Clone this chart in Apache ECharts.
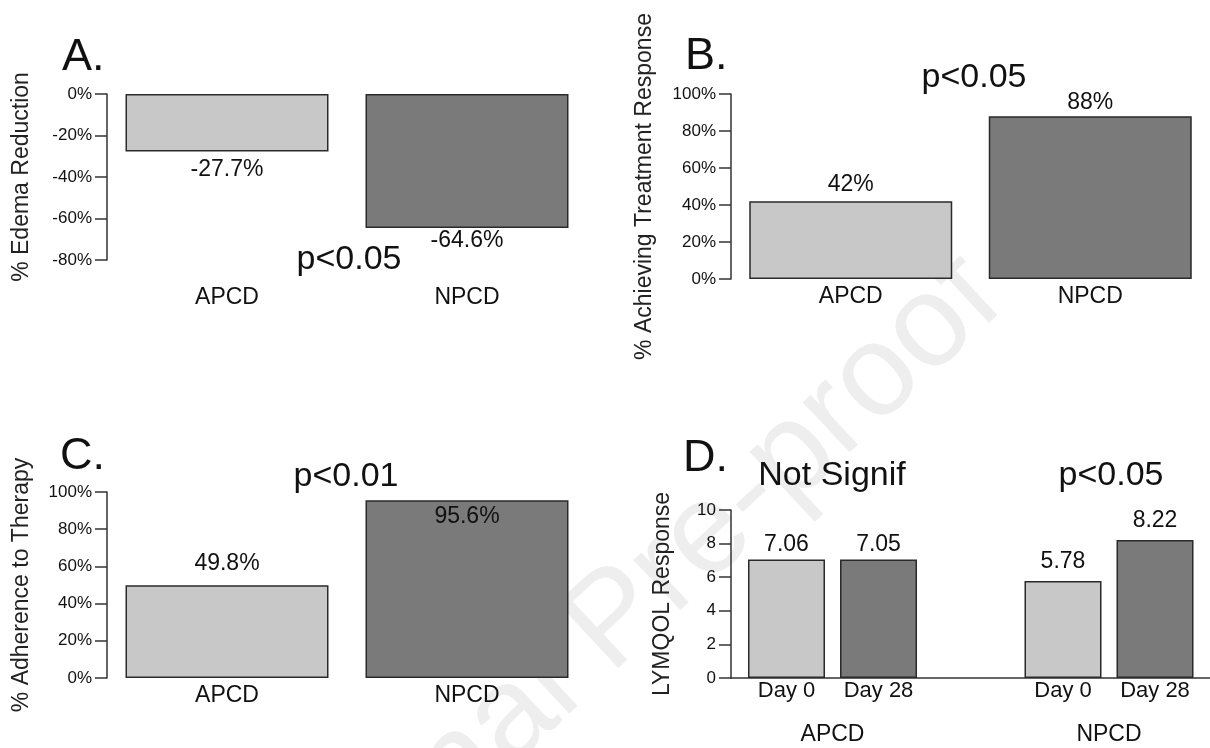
<!DOCTYPE html>
<html>
<head>
<meta charset="utf-8">
<script src="https://cdn.jsdelivr.net/npm/echarts@6/dist/echarts.min.js"></script>
<style>
html,body{margin:0;padding:0;background:#fff;}
#chart{width:1210px;height:748px;}
</style>
</head>
<body>
<div id="chart"></div>
<script>
// ---------------- data ----------------
const groups = ['APCD', 'NPCD'];
const edemaReduction = [-27.7, -64.6];        // panel A (%)
const treatmentResponse = [42, 88];           // panel B (%)
const adherence = [49.8, 95.6];               // panel C (%)
const timepoints = ['Day 0', 'Day 28'];
const lymqolDay0 = [7.06, 5.78];              // panel D
const lymqolDay28 = [7.05, 8.22];             // panel D
const panelLetters = ['A.', 'B.', 'C.', 'D.'];
const pLabels = ['p<0.05', 'p<0.05', 'p<0.01', 'Not Signif', 'p<0.05'];
const yTitles = ['% Edema Reduction', '% Achieving Treatment Response', '% Adherence to Therapy', 'LYMQOL Response'];

// ---------------- styles ----------------
const FONT = '"Liberation Sans", Arial, Helvetica, sans-serif';
const LIGHT = '#c8c8c8', DARK = '#7a7a7a', INK = '#111111', LINE = '#333333', BORDER = '#2a2a2a';
const groupFill = [LIGHT, DARK];
const aDist = [7, 1], bDist = [5, 2], cDist = [10, 5], d0Dist = [3, 8], d28Dist = [3, 8];

const chart = echarts.init(document.getElementById('chart'), null, {renderer: 'canvas'});

function yAx(gi, min, max, interval, fmt, name, gap, fs) {
  return {
    gridIndex: gi, type: 'value', min: min, max: max, interval: interval,
    axisLine: {show: true, onZero: false, lineStyle: {color: LINE, width: 1.5}},
    axisTick: {show: true, length: 12, lineStyle: {color: LINE, width: 1.5}},
    axisLabel: {formatter: fmt, fontSize: 17, color: INK, fontFamily: FONT, margin: 15},
    splitLine: {show: false},
    name: name, nameLocation: 'middle', nameGap: gap, nameRotate: 90,
    nameTextStyle: {fontSize: fs, color: '#222', fontFamily: FONT}
  };
}
function xCat(gi, margin) {
  return {
    gridIndex: gi, type: 'category', data: groups,
    axisLine: {show: false, onZero: false}, axisTick: {show: false}, splitLine: {show: false},
    axisLabel: {fontSize: 23, color: INK, fontFamily: FONT, margin: margin}
  };
}
const barBase = {type: 'bar', barWidth: 203, itemStyle: {borderColor: BORDER, borderWidth: 1.5}};
const lbl = {show: true, fontSize: 23, color: INK, fontFamily: FONT};

// panel D x geometry (group centres in px -> value-axis extent)
const dLeft = 731, dRight = 1210, dC0 = 832.5, dBand = 276.5;
const dXMin = (dLeft - dC0) / dBand, dXMax = (dRight - dC0) / dBand;

function txt(t, x, y, size, align) {
  return {type: 'text', x: x, y: y, silent: true,
    style: {text: t, font: size + 'px ' + FONT, fill: INK, textAlign: align || 'center', textVerticalAlign: 'middle'}};
}

const option = {
  animation: false,
  backgroundColor: '#ffffff',
  grid: [
    {left: 107, top: 94, width: 480, height: 166},
    {left: 731, top: 94, width: 480, height: 185},
    {left: 107, top: 492, width: 480, height: 186},
    {left: dLeft, top: 510, width: dRight - dLeft, height: 168}
  ],
  xAxis: [
    xCat(0, 26), xCat(1, 6), xCat(2, 6),
    {
      gridIndex: 3, type: 'value', min: dXMin, max: dXMax,
      axisLine: {show: true, onZero: false, lineStyle: {color: LINE, width: 1.5}},
      axisTick: {show: false}, splitLine: {show: false},
      axisLabel: {
        customValues: [0, 1], margin: 1, color: INK, fontFamily: FONT,
        formatter: function (v) {
          return '{d|' + timepoints[0] + '}{d|' + timepoints[1] + '}\n{g|' + groups[Math.round(v)] + '}';
        },
        rich: {
          d: {width: 92, align: 'center', fontSize: 22, lineHeight: 24, color: INK, fontFamily: FONT},
          g: {width: 184, align: 'center', fontSize: 23, lineHeight: 64, color: INK, fontFamily: FONT}
        }
      }
    }
  ],
  yAxis: [
    yAx(0, -80, 0, 20, '{value}%', yTitles[0], 74, 23),
    yAx(1, 0, 100, 20, '{value}%', yTitles[1], 75, 23),
    yAx(2, 0, 100, 20, '{value}%', yTitles[2], 74, 23),
    yAx(3, 0, 10, 2, '{value}', yTitles[3], 57, 23)
  ],
  series: [
    Object.assign({}, barBase, {
      xAxisIndex: 0, yAxisIndex: 0,
      data: edemaReduction.map((v, i) => ({value: v, itemStyle: {color: groupFill[i]}, label: {distance: aDist[i]}})),
      label: Object.assign({}, lbl, {position: 'bottom', formatter: p => p.value + '%'})
    }),
    Object.assign({}, barBase, {
      xAxisIndex: 1, yAxisIndex: 1,
      data: treatmentResponse.map((v, i) => ({value: v, itemStyle: {color: groupFill[i]}, label: {distance: bDist[i]}})),
      label: Object.assign({}, lbl, {position: 'top', formatter: p => p.value + '%'})
    }),
    Object.assign({}, barBase, {
      xAxisIndex: 2, yAxisIndex: 2,
      data: adherence.map((v, i) => ({value: v, itemStyle: {color: groupFill[i]},
        label: {distance: cDist[i], position: i === 1 ? 'insideTop' : 'top'}})),
      label: Object.assign({}, lbl, {position: 'top', formatter: p => p.value + '%'})
    }),
    {
      type: 'bar', name: timepoints[0], xAxisIndex: 3, yAxisIndex: 3, barWidth: 77, barGap: '19.5%',
      itemStyle: {color: LIGHT, borderColor: BORDER, borderWidth: 1.5},
      data: lymqolDay0.map((v, i) => ({value: [i, v], label: {distance: d0Dist[i]}})),
      label: Object.assign({}, lbl, {position: 'top', formatter: p => p.value[1].toFixed(2)})
    },
    {
      type: 'bar', name: timepoints[1], xAxisIndex: 3, yAxisIndex: 3, barWidth: 77, barGap: '19.5%',
      itemStyle: {color: DARK, borderColor: BORDER, borderWidth: 1.5},
      data: lymqolDay28.map((v, i) => ({value: [i, v], label: {distance: d28Dist[i]}})),
      label: Object.assign({}, lbl, {position: 'top', formatter: p => p.value[1].toFixed(2)})
    }
  ],
  graphic: [
    {type: 'text', x: 615, y: 622, rotation: 0.75, silent: true, z: -10,
      style: {text: 'Journal Pre-proof', font: '130px ' + FONT, fill: '#eeeeee', textAlign: 'center', textVerticalAlign: 'middle'}},
    txt(panelLetters[0], 62, 58, 45, 'left'),
    txt(panelLetters[1], 685, 57, 45, 'left'),
    txt(panelLetters[2], 60, 457, 45, 'left'),
    txt(panelLetters[3], 683, 459, 45, 'left'),
    txt(pLabels[0], 349, 260, 34),
    txt(pLabels[1], 974, 78, 34),
    txt(pLabels[2], 346, 477, 34),
    txt(pLabels[3], 832, 476, 34),
    txt(pLabels[4], 1111, 476, 34)
  ]
};
chart.setOption(option);
</script>
</body>
</html>
